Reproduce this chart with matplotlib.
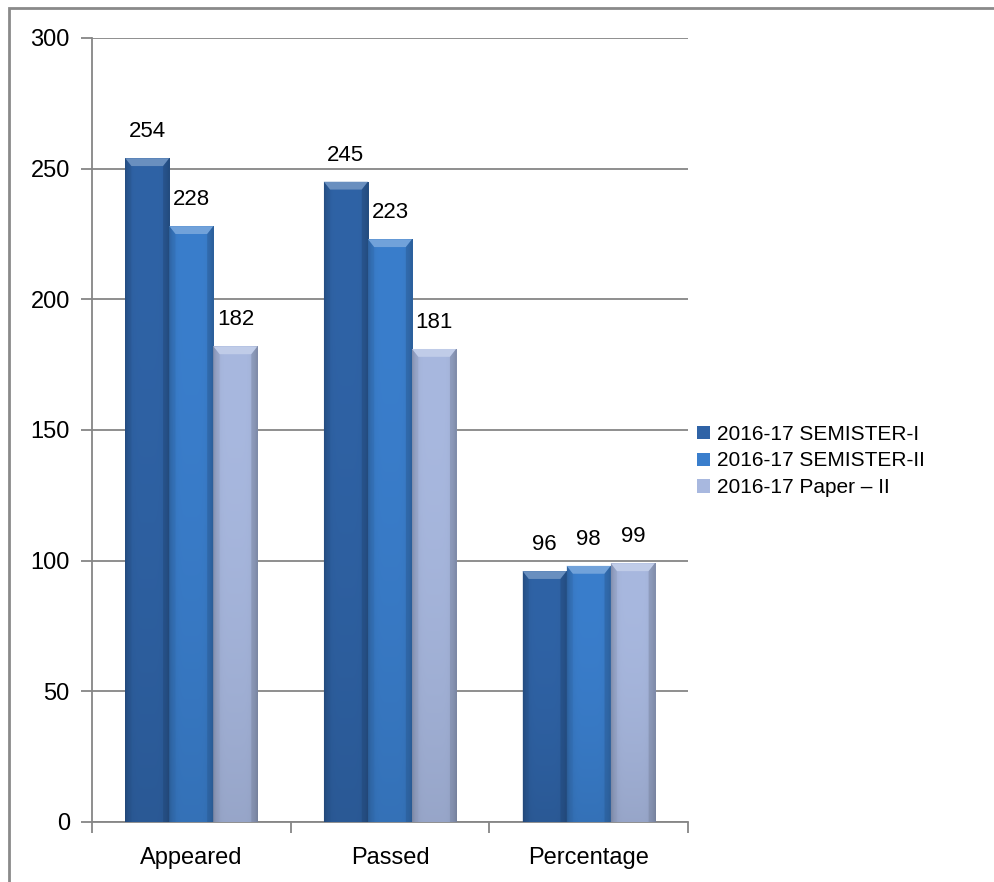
import numpy as np
import matplotlib
matplotlib.use("Agg")
import matplotlib.pyplot as plt
from matplotlib.patches import Rectangle, Polygon
from matplotlib.colors import to_rgb

categories = ["Appeared", "Passed", "Percentage"]
series_names = ["2016-17 SEMISTER-I", "2016-17 SEMISTER-II", "2016-17 Paper \u2013 II"]
sem1 = [254, 245, 96]
sem2 = [228, 223, 98]
paper2 = [182, 181, 99]
series_values = [sem1, sem2, paper2]
colors = ["#2F63A6", "#3A7ECC", "#A8B8DF"]
yticks = [0, 50, 100, 150, 200, 250, 300]

plt.rcParams["font.family"] = ["Liberation Sans", "DejaVu Sans"]
FS_TICK = 17
FS_LAB = 16
FS_LEG = 15

fig = plt.figure(figsize=(9.94, 8.82), dpi=100)
ax = fig.add_axes([92/994, 1-822/882, (688-92)/994, (822-38)/882])

gray = "#868686"
n = len(series_values)
bw = 0.222
x = np.arange(len(categories))

H, W = 120, 40
xx = np.linspace(0, 1, W)
yy = np.linspace(0, 1, H)
edge = np.abs(2*xx - 1)**6
for i, (vals, col) in enumerate(zip(series_values, colors)):
    offs = (i - (n-1)/2) * bw
    bars = ax.bar(x + offs, vals, width=bw, color=col, edgecolor="none",
                  label=series_names[i], zorder=3)
    base = np.array(to_rgb(col))
    for b, v in zip(bars, vals):
        x0, x1 = b.get_x(), b.get_x() + b.get_width()
        shade = np.ones((H, W, 3)) * base
        fac = (1 - 0.22*edge)[None, :] * (1 - 0.10*(1 - yy[::-1])[:, None]**2)
        img = shade * fac[:, :, None]
        im = ax.imshow(img, extent=[x0, x1, 0, v], aspect="auto", origin="upper",
                       zorder=3.5, interpolation="bilinear")
        im.set_clip_path(b)
        bh = 3.0
        dx = (x1 - x0) * 0.14
        light = np.clip(base + (1 - base)*0.28, 0, 1)
        ax.add_patch(Polygon([(x0, v), (x1, v), (x1 - dx, v - bh), (x0 + dx, v - bh)],
                             closed=True, facecolor=light, edgecolor="none", zorder=4))
        ax.add_patch(Polygon([(x0, v), (x0 + dx, v - bh), (x0 + dx, 0), (x0, 0)],
                             closed=True, facecolor=base*0.82, edgecolor="none", zorder=4, alpha=0.35))
        ax.add_patch(Polygon([(x1, v), (x1 - dx, v - bh), (x1 - dx, 0), (x1, 0)],
                             closed=True, facecolor=base*0.7, edgecolor="none", zorder=4, alpha=0.45))
        ax.annotate(f"{v}", (b.get_x() + b.get_width()/2, v), xytext=(0, 11.5),
                    textcoords="offset points", ha="center", va="bottom",
                    fontsize=FS_LAB, color="black", zorder=6)

ax.set_xlim(-0.5, len(categories) - 0.5)
ax.set_ylim(0, 300)
ax.set_yticks(yticks)
ax.set_yticklabels([str(t) for t in yticks], fontsize=FS_TICK)
ax.yaxis.grid(True, color=gray, linewidth=1.3, zorder=0)
ax.set_axisbelow(True)

ax.set_xticks(np.arange(-0.5, len(categories), 1.0))
ax.set_xticklabels([])
ax.set_xticks(x, minor=True)
ax.set_xticklabels(categories, minor=True, fontsize=FS_TICK)
ax.tick_params(axis="x", which="major", length=8, color=gray, width=1.3, direction="out")
ax.tick_params(axis="x", which="minor", length=0, pad=18)
ax.tick_params(axis="y", length=8, color=gray, width=1.3, pad=8)

for s in ["top", "right"]:
    ax.spines[s].set_visible(False)
for s in ["left", "bottom"]:
    ax.spines[s].set_color(gray)
    ax.spines[s].set_linewidth(1.3)

leg = ax.legend(loc="center left", bbox_to_anchor=(697/994, 1-461/882),
                bbox_transform=fig.transFigure, frameon=False, fontsize=FS_LEG,
                handlelength=0.6, handleheight=0.6, handletextpad=0.35,
                labelspacing=0.38, borderpad=0, borderaxespad=0)

fig.patches.append(Rectangle((9/994, -0.05), 1.1, 1 - 8/882 + 0.05, transform=fig.transFigure,
                             fill=False, edgecolor="#8a8a8a", linewidth=2, zorder=10))

fig.savefig("out.png", dpi=100)
